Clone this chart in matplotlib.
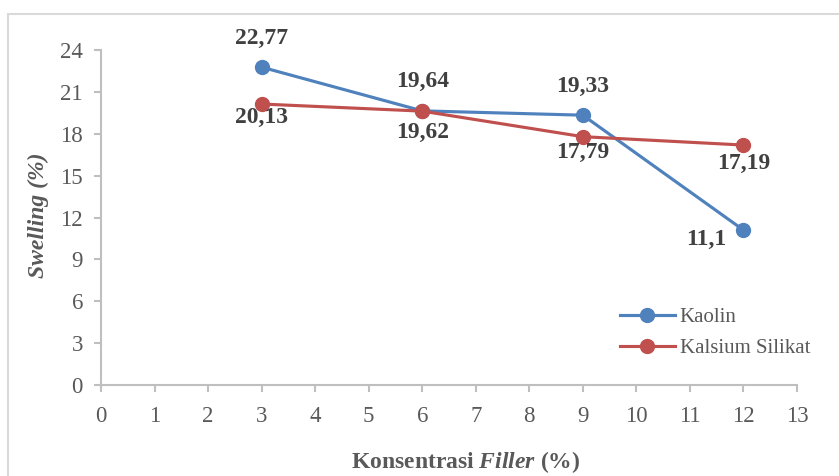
import matplotlib
matplotlib.use('Agg')
import matplotlib.pyplot as plt
from matplotlib.patches import Rectangle

# data
filler = [3, 6, 9, 12]
kaolin = [22.77, 19.64, 19.33, 11.1]
kalsium = [20.13, 19.62, 17.79, 17.19]
kaolin_labels = ['22,77', '19,64', '19,33', '11,1']
kalsium_labels = ['20,13', '19,62', '17,79', '17,19']
x_ticks = list(range(0, 14))
y_ticks = list(range(0, 25, 3))

BLUE = '#4F81BD'
RED = '#C0504D'
GRAY_TXT = '#595959'
DARK = '#404040'
AXIS = '#BFBFBF'

plt.rcParams['font.family'] = ['Liberation Serif', 'DejaVu Serif']
plt.rcParams['mathtext.fontset'] = 'custom'
plt.rcParams['mathtext.rm'] = 'Liberation Serif:bold'
plt.rcParams['mathtext.it'] = 'Liberation Serif:italic:bold'
plt.rcParams['mathtext.bf'] = 'Liberation Serif:bold'

fig = plt.figure(figsize=(8.39, 4.76), dpi=100)
ax = fig.add_axes([101 / 839, 1 - 385 / 476, 696 / 839, 335 / 476])

# outer chart border (only left and top visible in the reference)
fig.patches.append(Rectangle((8 / 839, -0.1), 1.2, (476 - 14) / 476 + 0.1,
                             transform=fig.transFigure, fill=False,
                             edgecolor='#D9D9D9', linewidth=1.5))

ax.plot(filler, kaolin, color=BLUE, linewidth=2.25, marker='o',
        markersize=10, label='Kaolin', zorder=3)
ax.plot(filler, kalsium, color=RED, linewidth=2.25, marker='o',
        markersize=10, label='Kalsium Silikat', zorder=3)

# data labels (offsets in points)
kaolin_off = [(0, 21), (0, 21), (0, 21), (-27, -7)]
kalsium_off = [(0, -10), (0, -15), (0, -11), (0, -13)]
for x, y, s, off in zip(filler, kaolin, kaolin_labels, kaolin_off):
    ax.annotate(s, (x, y), xytext=off, textcoords='offset points',
                ha='center', va='center', fontsize=17, fontweight='bold',
                color=DARK)
for x, y, s, off in zip(filler, kalsium, kalsium_labels, kalsium_off):
    ax.annotate(s, (x, y), xytext=off, textcoords='offset points',
                ha='center', va='center', fontsize=17, fontweight='bold',
                color=DARK)

ax.set_xlim(0, 13)
ax.set_ylim(0, 24)
ax.set_xticks(x_ticks)
ax.set_yticks(y_ticks)
ax.tick_params(axis='both', colors=AXIS, labelcolor=GRAY_TXT, labelsize=16.5,
               length=5, width=1.5, direction='out')
ax.tick_params(axis='y', pad=8)
ax.tick_params(axis='x', pad=10)

for side in ['top', 'right']:
    ax.spines[side].set_visible(False)
for side in ['left', 'bottom']:
    ax.spines[side].set_color(AXIS)
    ax.spines[side].set_linewidth(1.5)

fig.text(466 / 839, 1 - 462 / 476, r'Konsentrasi $\mathit{Filler}$ (%)',
         ha='center', va='center', fontsize=17, fontweight='bold', color=GRAY_TXT)
fig.text(38 / 839, 1 - 215 / 476, 'Swelling (%)', rotation=90,
         ha='center', va='center', fontsize=17, fontweight='bold',
         fontstyle='italic', color=GRAY_TXT)

leg = ax.legend(loc='upper left', bbox_to_anchor=(612 / 839, 1 - 299 / 476),
                bbox_transform=fig.transFigure, frameon=False, fontsize=15,
                handlelength=2.6, handletextpad=0.25, labelspacing=0.55,
                borderaxespad=0)
for t in leg.get_texts():
    t.set_color(GRAY_TXT)

fig.savefig('out.png', dpi=100)
